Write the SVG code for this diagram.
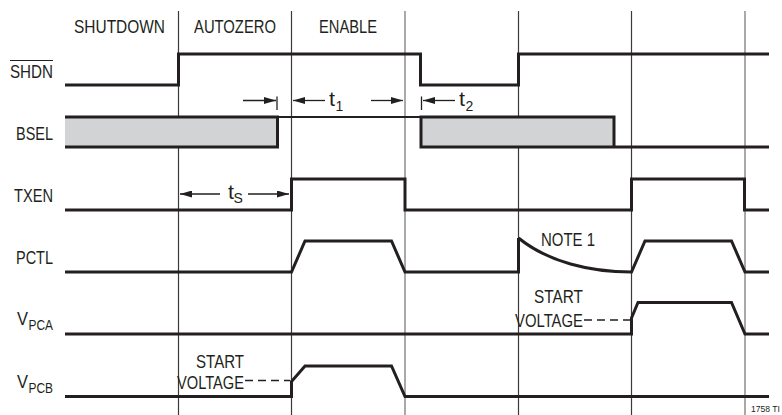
<svg xmlns="http://www.w3.org/2000/svg" width="782" height="415" viewBox="0 0 782 415">
<style>
.lbl{font-family:"Liberation Sans",Arial,sans-serif;font-size:18px;fill:#231f20}
.top{font-size:18.5px}
.sub{font-size:14px}
.tt{font-size:20px}
.w{fill:none;stroke:#231f20;stroke-width:3;stroke-linejoin:miter}
.g1{stroke:#3a3a3a;stroke-width:1.2}
.g2{stroke:#8c8c8c;stroke-width:1.5}
.ar{stroke:#231f20;stroke-width:1.3;fill:none}
.dash{stroke:#231f20;stroke-width:1.3;stroke-dasharray:8,5;fill:none}
</style>
<defs>
<marker id="ah" viewBox="0 0 12 7" refX="12" refY="3.5" markerWidth="12" markerHeight="7" markerUnits="userSpaceOnUse" orient="auto">
<path d="M0,0 L12,3.5 L0,7 z" fill="#231f20"/>
</marker>
</defs>
<rect width="782" height="415" fill="#fff"/>
<g id="grid">
<line class="g1" x1="178.5" y1="11" x2="178.5" y2="415"/>
<line class="g1" x1="291.5" y1="11" x2="291.5" y2="415"/>
<line class="g2" x1="405" y1="11" x2="405" y2="415"/>
<line class="g1" x1="518.5" y1="11" x2="518.5" y2="415"/>
<line class="g1" x1="631.5" y1="11" x2="631.5" y2="415"/>
<line class="g2" x1="745" y1="11" x2="745" y2="415"/>
</g>
<g id="phases">
<text class="lbl top" x="74" y="33" textLength="91" lengthAdjust="spacingAndGlyphs">SHUTDOWN</text>
<text class="lbl top" x="194" y="33" textLength="82" lengthAdjust="spacingAndGlyphs">AUTOZERO</text>
<text class="lbl top" x="319" y="33" textLength="58" lengthAdjust="spacingAndGlyphs">ENABLE</text>
</g>
<g id="labels">
<text class="lbl" x="10" y="77.5" textLength="43" lengthAdjust="spacingAndGlyphs">SHDN</text>
<line x1="10" y1="60.5" x2="53" y2="60.5" stroke="#231f20" stroke-width="1.2"/>
<text class="lbl" x="16" y="140" textLength="37" lengthAdjust="spacingAndGlyphs">BSEL</text>
<text class="lbl" x="14" y="202" textLength="39" lengthAdjust="spacingAndGlyphs">TXEN</text>
<text class="lbl" x="16" y="264" textLength="37" lengthAdjust="spacingAndGlyphs">PCTL</text>
<text class="lbl" x="17" y="325" textLength="11" lengthAdjust="spacingAndGlyphs">V</text>
<text class="lbl sub" x="28.5" y="330" textLength="24.5" lengthAdjust="spacingAndGlyphs">PCA</text>
<text class="lbl" x="17" y="388" textLength="11" lengthAdjust="spacingAndGlyphs">V</text>
<text class="lbl sub" x="28.5" y="393" textLength="24.5" lengthAdjust="spacingAndGlyphs">PCB</text>
</g>
<g id="shdn">
<path class="w" d="M65,85 H178.5 V54 H420.5 V85 H518.5 V54 H769"/>
</g>
<g id="bsel">
<path d="M65,117 H277.5 V147 H65 Z" fill="#d1d3d4"/>
<path class="w" d="M65,117 H277.5 V147 H65"/>
<path d="M277.5,117 H421" fill="none" stroke="#231f20" stroke-width="2"/>
<path d="M421,117 H614 V147 H421 Z" fill="#d1d3d4"/>
<path class="w" d="M421,117 H614 V147 H421 Z M614,147 H769"/>
</g>
<g id="txen">
<path class="w" d="M65,210 H291.5 V179 H405 V210 H631.5 V179 H744.5 V210 H769"/>
</g>
<g id="pctl">
<path class="w" d="M65,272 H291.5 L305,241 H391.5 L405,272 H518.5 V238"/>
<path class="w" d="M518.5,238 C548,262 590,272 631.5,272 L645,241 H731.5 L745,272 H769"/>
<text class="lbl" x="541" y="246" textLength="54" lengthAdjust="spacingAndGlyphs">NOTE 1</text>
</g>
<g id="vpca">
<path class="w" d="M65,334 H631.5 V318 L638,302.5 H731.5 L745,334 H769"/>
<text class="lbl" x="534" y="303" textLength="49" lengthAdjust="spacingAndGlyphs">START</text>
<text class="lbl" x="515" y="326.5" textLength="68" lengthAdjust="spacingAndGlyphs">VOLTAGE</text>
<path class="dash" d="M584,320 H630"/>
</g>
<g id="vpcb">
<path class="w" d="M65,396.5 H291.5 V381.5 L305,366 H391.5 L405,396.5 H769"/>
<text class="lbl" x="196" y="368" textLength="48" lengthAdjust="spacingAndGlyphs">START</text>
<text class="lbl" x="177" y="389" textLength="67" lengthAdjust="spacingAndGlyphs">VOLTAGE</text>
<path class="dash" d="M245,380.5 H290"/>
</g>
<g id="timing">
<line class="ar" x1="243" y1="100.5" x2="276" y2="100.5" marker-end="url(#ah)"/>
<line class="ar" x1="277" y1="96.5" x2="277" y2="110"/>
<line class="ar" x1="325" y1="100.5" x2="293" y2="100.5" marker-end="url(#ah)"/>
<text class="lbl tt" x="329" y="106" textLength="6" lengthAdjust="spacingAndGlyphs">t</text>
<text class="lbl sub" x="335.5" y="111">1</text>
<line class="ar" x1="371" y1="100.5" x2="403" y2="100.5" marker-end="url(#ah)"/>
<line class="ar" x1="421.5" y1="96.5" x2="421.5" y2="110"/>
<line class="ar" x1="455" y1="100.5" x2="423" y2="100.5" marker-end="url(#ah)"/>
<text class="lbl tt" x="459" y="106" textLength="6" lengthAdjust="spacingAndGlyphs">t</text>
<text class="lbl sub" x="465.5" y="111">2</text>
<line class="ar" x1="220" y1="194" x2="180" y2="194" marker-end="url(#ah)"/>
<text class="lbl tt" x="228" y="198.5" textLength="6" lengthAdjust="spacingAndGlyphs">t</text>
<text class="lbl sub" x="233.5" y="202.5">S</text>
<line class="ar" x1="248" y1="194" x2="289" y2="194" marker-end="url(#ah)"/>
</g>
<text class="lbl" x="751" y="412" style="font-size:9px" textLength="29" lengthAdjust="spacingAndGlyphs">1758 TI</text>
</svg>
